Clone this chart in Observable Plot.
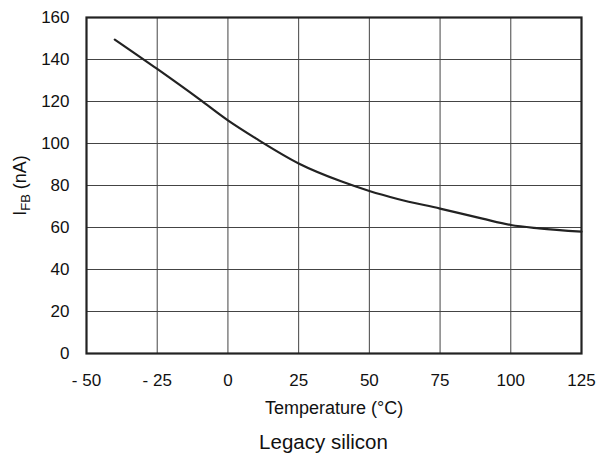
<!DOCTYPE html>
<html>
<head>
<meta charset="utf-8">
<script src="https://cdn.jsdelivr.net/npm/d3@7"></script>
<script src="https://cdn.jsdelivr.net/npm/@observablehq/plot@0.6"></script>
<style>
  body { margin: 0; background: #fff; font-family: "Liberation Sans", Arial, sans-serif; }
  #chart { width: 598px; }
  #chart svg { display: block; }
  .caption { width: 598px; text-align: center; font-size: 20.5px; line-height: 24px; color: #111; margin-top: 10px; padding-left: 49px; box-sizing: border-box; }
</style>
</head>
<body>
<div id="chart"></div>
<div class="caption">Legacy silicon</div>
<script>
const temps = [-40, -25, -10, 0, 10, 25, 40, 50, 60, 75, 90, 100, 110, 125];
const ifb   = [149.5, 135.5, 121, 111, 102.3, 90.5, 82, 77.4, 73.6, 69, 64.2, 61.2, 59.6, 58];
const xTicks = [-50, -25, 0, 25, 50, 75, 100, 125];
const yTicks = [0, 20, 40, 60, 80, 100, 120, 140, 160];
const xLabel = "Temperature (°C)";
const yLabelMain = "I";
const yLabelSub = "FB";
const yLabelUnit = " (nA)";

const data = temps.map((t, i) => ({t, v: ifb[i]}));
const fmtX = d => d < 0 ? "- " + Math.abs(d) : String(d);

const chart = Plot.plot({
  width: 598,
  height: 420,
  marginLeft: 86,
  marginRight: 17,
  marginTop: 17,
  marginBottom: 67,
  style: {fontFamily: "Liberation Sans, Arial, sans-serif", fontSize: "17px", color: "#111", background: "#fff"},
  x: {domain: [-50, 125], ticks: xTicks, tickFormat: fmtX, tickSize: 0, tickPadding: 20, label: null},
  y: {domain: [0, 160], ticks: yTicks, tickSize: 0, tickPadding: 17, label: null},
  marks: [
    Plot.gridX(xTicks, {stroke: "#444", strokeOpacity: 1, strokeWidth: 1}),
    Plot.gridY(yTicks, {stroke: "#444", strokeOpacity: 1, strokeWidth: 1}),
    Plot.frame({stroke: "#222", strokeWidth: 2.2}),
    Plot.line(data, {x: "t", y: "v", stroke: "#222", strokeWidth: 2.2, curve: "monotone-x"}),
    Plot.axisX({ticks: xTicks, tickFormat: fmtX, tickSize: 0, tickPadding: 20, label: null, fontSize: 17}),
    Plot.axisY({ticks: yTicks, tickSize: 0, tickPadding: 17, label: null, fontSize: 17}),
    Plot.text([xLabel], {frameAnchor: "bottom", dy: 55, text: d => d, fontSize: 18, fill: "#111", lineAnchor: "middle"}),
    Plot.text([yLabelMain], {frameAnchor: "left", dx: -66, rotate: -90, text: d => d, fontSize: 18, fill: "#111", textAnchor: "middle", lineAnchor: "middle", className: "ylab"})
  ]
});
document.getElementById("chart").appendChild(chart);

// add subscript to y label
const t = d3.select(chart).select("g.ylab text");
if (!t.empty()) {
  t.attr("text-anchor", "middle");
  t.text(null);
  t.append("tspan").text(yLabelMain);
  t.append("tspan").attr("font-size", "13px").attr("dy", "4").text(yLabelSub);
  t.append("tspan").attr("dy", "-4").text(yLabelUnit);
}
</script>
</body>
</html>
